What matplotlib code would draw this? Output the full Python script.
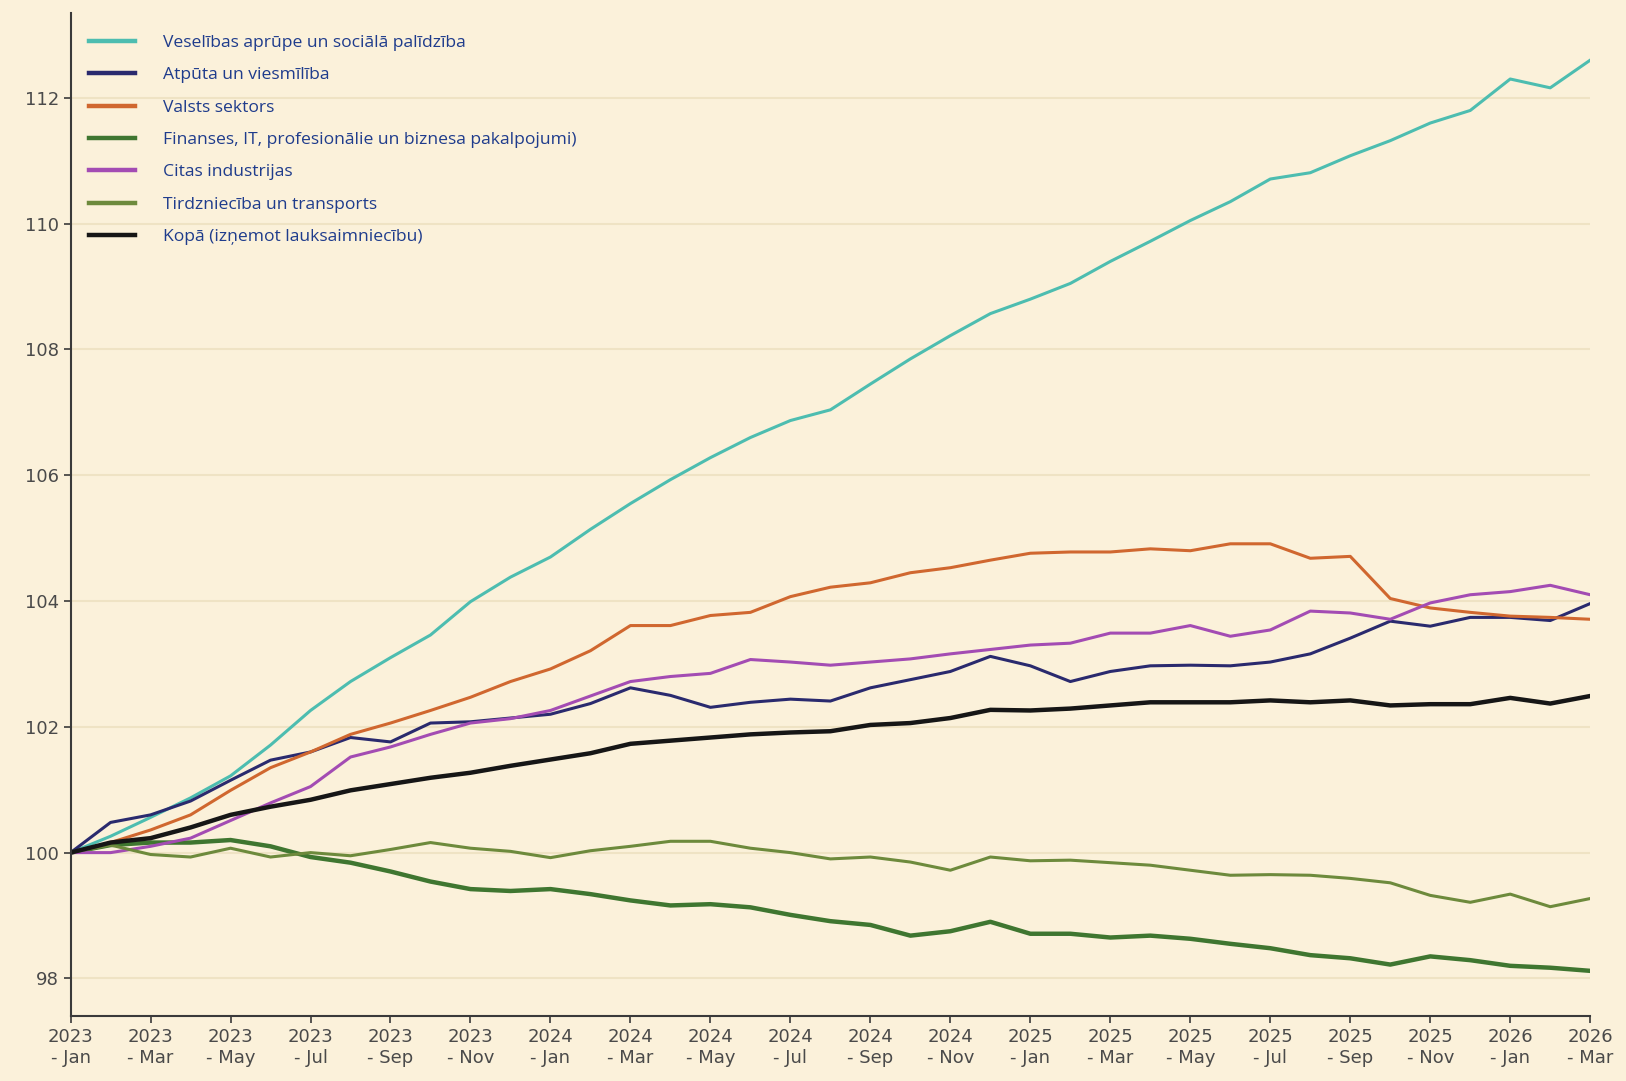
import matplotlib
matplotlib.use("Agg")
import matplotlib.pyplot as plt
import numpy as np

# months Jan 2023 .. Mar 2026 (39 points), index = 100 in Jan 2023
years = [2023] * 12 + [2024] * 12 + [2025] * 12 + [2026] * 3
month_names = ["Jan", "Feb", "Mar", "Apr", "May", "Jun",
               "Jul", "Aug", "Sep", "Oct", "Nov", "Dec"]
months = [month_names[i % 12] for i in range(39)]

veselibas = [100.0, 100.26, 100.56, 100.87, 101.22, 101.71, 102.26, 102.72, 103.1, 103.46,
             103.99, 104.38, 104.7, 105.14, 105.55, 105.93, 106.28, 106.6, 106.87, 107.04,
             107.45, 107.85, 108.22, 108.57, 108.8, 109.05, 109.4, 109.72, 110.05, 110.35,
             110.71, 110.81, 111.08, 111.32, 111.6, 111.8, 112.3, 112.16, 112.6]
atputa = [100.0, 100.48, 100.6, 100.82, 101.15, 101.47, 101.6, 101.83, 101.76, 102.06,
          102.08, 102.14, 102.2, 102.37, 102.62, 102.5, 102.31, 102.39, 102.44, 102.41,
          102.62, 102.75, 102.88, 103.12, 102.97, 102.72, 102.88, 102.97, 102.98, 102.97,
          103.03, 103.16, 103.41, 103.68, 103.6, 103.74, 103.74, 103.69, 103.96]
valsts = [100.0, 100.16, 100.36, 100.6, 100.99, 101.35, 101.6, 101.88, 102.06, 102.26,
          102.47, 102.72, 102.92, 103.21, 103.61, 103.61, 103.77, 103.82, 104.07, 104.22,
          104.29, 104.45, 104.53, 104.65, 104.76, 104.78, 104.78, 104.83, 104.8, 104.91,
          104.91, 104.68, 104.71, 104.04, 103.89, 103.82, 103.76, 103.74, 103.71]
finanses = [100.0, 100.12, 100.16, 100.16, 100.2, 100.1, 99.93, 99.84, 99.7, 99.54,
            99.42, 99.39, 99.42, 99.34, 99.24, 99.16, 99.18, 99.13, 99.01, 98.91,
            98.85, 98.68, 98.75, 98.9, 98.71, 98.71, 98.65, 98.68, 98.63, 98.55,
            98.48, 98.37, 98.32, 98.22, 98.35, 98.29, 98.2, 98.17, 98.12]
citas = [100.0, 100.0, 100.1, 100.23, 100.51, 100.79, 101.05, 101.52, 101.68, 101.88,
         102.06, 102.13, 102.26, 102.49, 102.72, 102.8, 102.85, 103.07, 103.03, 102.98,
         103.03, 103.08, 103.16, 103.23, 103.3, 103.33, 103.49, 103.49, 103.61, 103.44,
         103.54, 103.84, 103.81, 103.71, 103.97, 104.1, 104.15, 104.25, 104.1]
tirdznieciba = [100.0, 100.12, 99.97, 99.93, 100.07, 99.93, 100.0, 99.95, 100.05, 100.16,
                100.07, 100.02, 99.92, 100.03, 100.1, 100.18, 100.18, 100.07, 100.0, 99.9,
                99.93, 99.85, 99.72, 99.93, 99.87, 99.88, 99.84, 99.8, 99.72, 99.64,
                99.65, 99.64, 99.59, 99.52, 99.32, 99.21, 99.34, 99.14, 99.27]
kopa = [100.0, 100.16, 100.23, 100.4, 100.6, 100.73, 100.84, 100.99, 101.09, 101.19,
        101.27, 101.38, 101.48, 101.58, 101.73, 101.78, 101.83, 101.88, 101.91, 101.93,
        102.03, 102.06, 102.14, 102.27, 102.26, 102.29, 102.34, 102.39, 102.39, 102.39,
        102.42, 102.39, 102.42, 102.34, 102.36, 102.36, 102.46, 102.37, 102.49]

series = [
    ("Veselības aprūpe un sociālā palīdzība", veselibas, "#4dbdb0", 2.2),
    ("Atpūta un viesmīlība", atputa, "#2a2a6e", 2.2),
    ("Valsts sektors", valsts, "#d0672f", 2.2),
    ("Finanses, IT, profesionālie un biznesa pakalpojumi)", finanses, "#3f7630", 3.2),
    ("Citas industrijas", citas, "#a34cb3", 2.2),
    ("Tirdzniecība un transports", tirdznieciba, "#6d8a3c", 2.2),
    ("Kopā (izņemot lauksaimniecību)", kopa, "#161616", 3.2),
]

bg = "#fbf1da"
fig = plt.figure(figsize=(16.26, 10.81), dpi=100, facecolor=bg)
ax = fig.add_axes([0.0434, 0.06, 0.9346, 0.928], facecolor=bg)

x = np.arange(len(kopa))
for name, vals, color, lw in series:
    ax.plot(x, vals, color=color, lw=lw, label=name, solid_joinstyle="round")

ax.set_xlim(0, len(kopa) - 1)
ax.set_ylim(97.4, 113.35)
ax.set_yticks(np.arange(98, 113, 2))
ax.set_yticklabels([str(v) for v in range(98, 113, 2)])
ax.set_xticks(x[::2])
ax.set_xticklabels([f"{years[i]}\n- {months[i]}" for i in x[::2]])
ax.yaxis.grid(True, color="#efe3c4", lw=1.5)
ax.set_axisbelow(True)

for s in ["top", "right"]:
    ax.spines[s].set_visible(False)
for s in ["left", "bottom"]:
    ax.spines[s].set_color("#3a3a3a")
    ax.spines[s].set_linewidth(1.5)
ax.tick_params(axis="both", labelsize=13, labelcolor="#4a4a4a", color="#3a3a3a",
               length=5, width=1.2)

leg = ax.legend(loc="upper left", bbox_to_anchor=(0.002, 0.994), frameon=False,
                handlelength=2.6, handletextpad=1.6, labelspacing=0.92,
                prop={"family": ["Open Sans", "DejaVu Sans"], "size": 12.6})
for t in leg.get_texts():
    t.set_color("#1f3c8c")
for h in leg.get_lines():
    h.set_linewidth(3.2)

plt.savefig("out.png", dpi=100, facecolor=bg)
